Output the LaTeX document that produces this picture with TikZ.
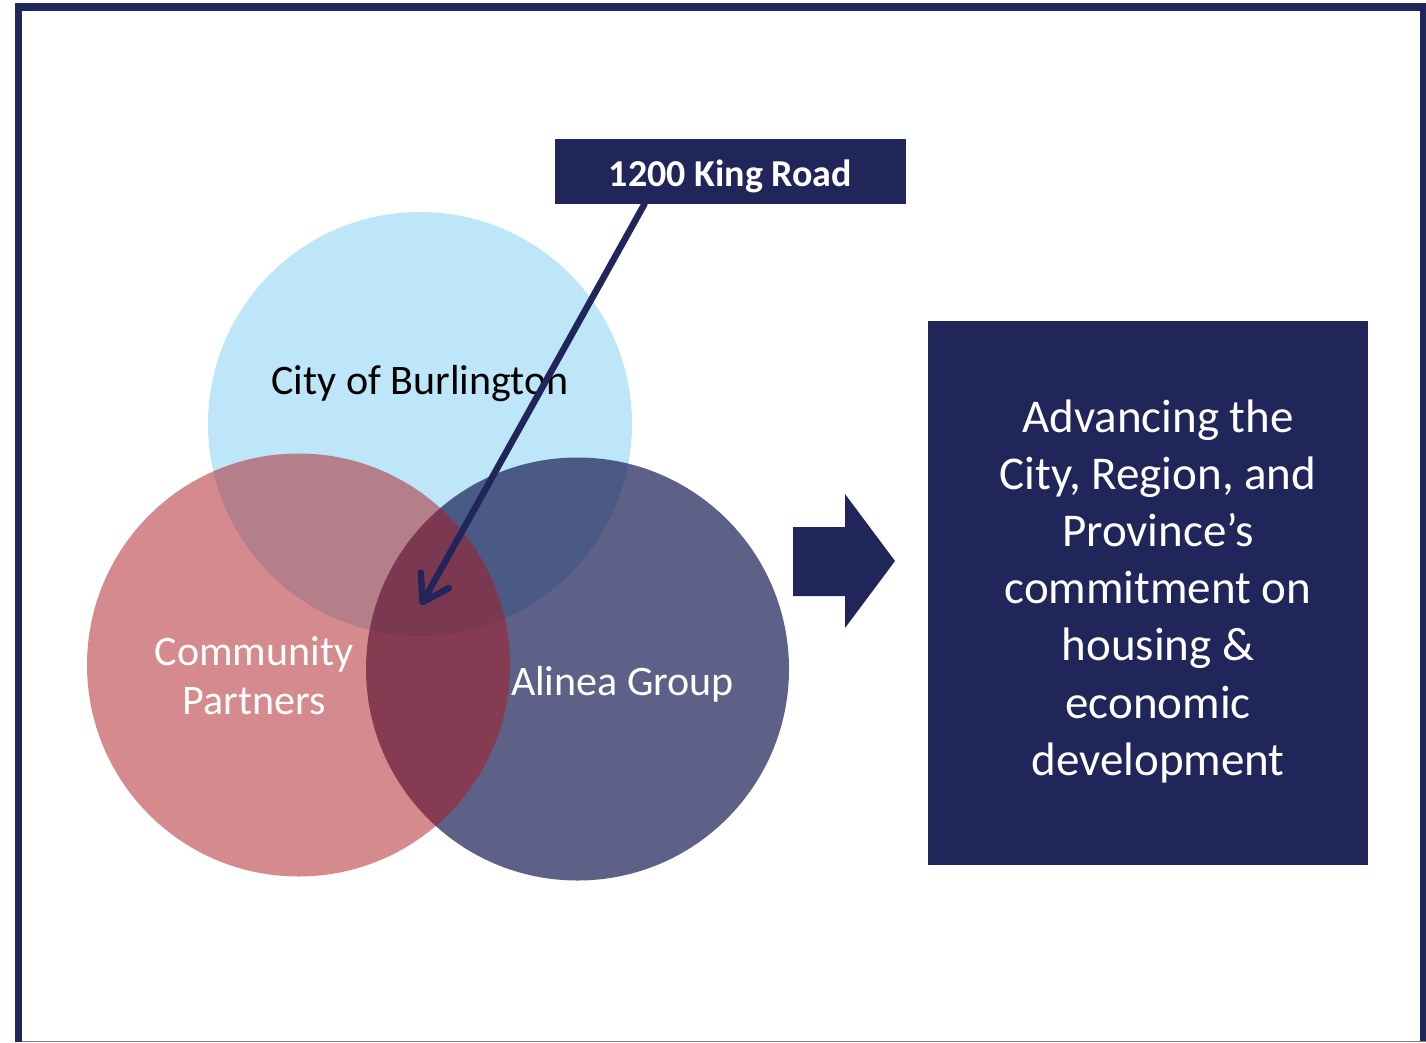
\documentclass[tikz,border=0pt]{standalone}
\usepackage{fontspec}
\setmainfont{Carlito}
\usetikzlibrary{arrows.meta}
\definecolor{navy}{RGB}{33,38,90}
\definecolor{navycirc}{RGB}{31,37,89}
\definecolor{skyblue}{RGB}{189,230,248}
\definecolor{redcirc}{RGB}{173,23,31}
\definecolor{framegray}{RGB}{120,124,140}
\tikzset{
  circlabel/.style={font=\fontsize{42}{49}\selectfont, anchor=base, align=center, inner sep=0pt},
  boxtext/.style={font=\fontsize{47}{57.2}\selectfont, text=white, align=center, inner sep=0pt},
  darkbox/.style={fill=navy, draw=none},
  pointer/.style={draw=navy, line width=6.5pt, line cap=round, line join=round,
    -{Straight Barb[length=25pt,width=32pt,line cap=round,line join=round]}}
}
\begin{document}
\begin{tikzpicture}[x=1pt,y=-1pt]
\useasboundingbox (0,0) rectangle (1426,1042);
\fill[white] (0,0) rectangle (1426,1042);
% frame
\fill[navy] (15,3) rectangle (22,1042);
\fill[navy] (15,3) rectangle (1426,10.5);
\fill[navy] (1420,3) rectangle (1426,1042);
\fill[framegray] (22,1040.5) rectangle (1426,1042);
% circles
\fill[skyblue] (420,424) circle[radius=212];
\fill[navycirc, opacity=0.72] (577.5,669) circle[radius=211.5];
\fill[redcirc, opacity=0.5] (298.5,665) circle[radius=211.5];
% circle labels
\node[circlabel, text=black] (city) at (420,394) {City of Burlington};
\node[circlabel, text=white] (comm) at (254,714) {Community\\Partners};
\node[circlabel, text=white] (alinea) at (622.5,695) {Alinea Group};
% label box
\node[darkbox, minimum width=351pt, minimum height=65pt, inner sep=0pt] (lbl) at (730.5,171.5) {};
\node[font=\fontsize{38}{42}\selectfont\bfseries, text=white, anchor=base, inner sep=0pt] (lbltext) at (730.5,186.5) {1200 King Road};
% pointer arrow
\coordinate (tip) at (421,605);
\coordinate (start) at (644.5,204);
\draw[pointer] (start) -- (tip);
% block arrow
\fill[navy] (793,527) -- (845,527) -- (845,494) -- (895,561) -- (845,628) -- (845,596) -- (793,596) -- cycle;
% right box
\node[darkbox, minimum width=440pt, minimum height=544pt, inner sep=0pt] (goal) at (1148,593) {};
\node[boxtext, anchor=base] (goaltext) at (1158,775.2) {Advancing the\\City, Region, and\\Province’s\\commitment on\\housing \&\\economic\\development};
\end{tikzpicture}
\end{document}
